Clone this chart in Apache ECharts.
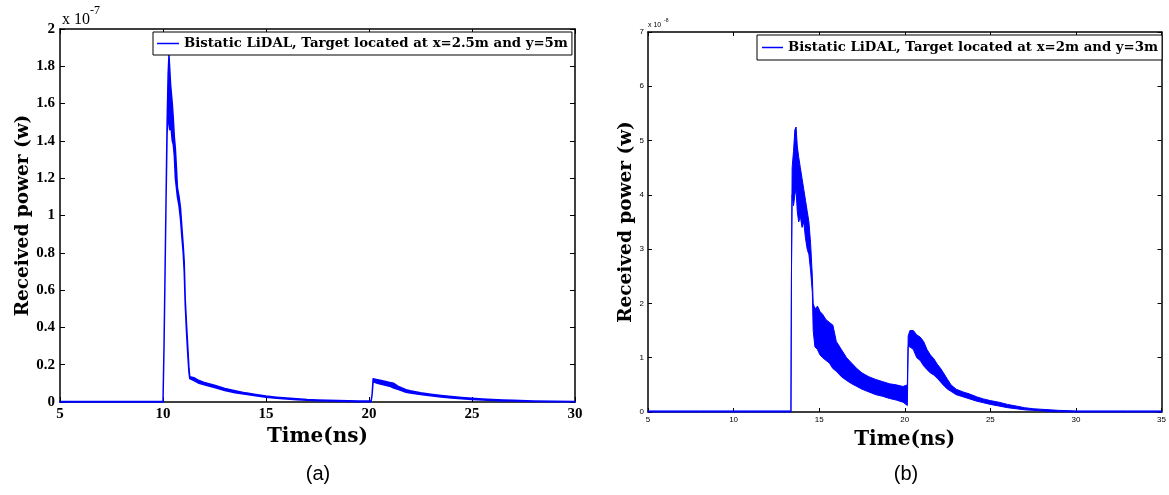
<!DOCTYPE html>
<html><head><meta charset="utf-8">
<script src="https://cdn.jsdelivr.net/npm/echarts@6/dist/echarts.min.js"></script>
<style>html,body{margin:0;padding:0;background:#fff}#c{width:1169px;height:495px}</style>
</head><body><div id="c"></div>
<script>
// ---------- Chart (a): time in ns, received power in units of 1e-7 W ----------
const aName = 'Bistatic LiDAL, Target located at x=2.5m and y=5m';
const aXTicks = [5, 10, 15, 20, 25, 30];
const aYTicks = [0, 0.2, 0.4, 0.6, 0.8, 1, 1.2, 1.4, 1.6, 1.8, 2];
const aTime  = [5.0, 7.0, 9.99, 10.0, 10.05, 10.1, 10.15, 10.2, 10.25, 10.29, 10.33, 10.37, 10.41, 10.45, 10.5, 10.55, 10.6, 10.65, 10.7, 10.78, 10.85, 10.92, 10.98, 11.03, 11.08, 11.14, 11.2, 11.26, 11.3, 11.5, 11.75, 12.0, 12.5, 13.0, 13.5, 14.0, 14.5, 15.0, 15.5, 16.0, 16.5, 17.0, 17.5, 18.0, 18.5, 19.0, 19.5, 20.1, 20.15, 20.2, 20.4, 20.6, 20.8, 21.0, 21.2, 21.4, 21.6, 21.8, 22.0, 22.5, 23.0, 23.5, 24.0, 24.5, 25.0, 25.5, 26.0, 26.5, 27.0, 28.0, 29.0, 30.0];
const aUpper = [0.003, 0.003, 0.003, 0.0, 0.3, 0.7, 1.1, 1.5, 1.76, 1.86, 1.78, 1.7, 1.65, 1.6, 1.52, 1.42, 1.36, 1.26, 1.15, 1.1, 1.04, 0.93, 0.84, 0.75, 0.55, 0.42, 0.3, 0.18, 0.135, 0.13, 0.115, 0.105, 0.09, 0.072, 0.06, 0.049, 0.04, 0.032, 0.026, 0.021, 0.017, 0.013, 0.011, 0.009, 0.008, 0.007, 0.006, 0.005, 0.04, 0.125, 0.12, 0.115, 0.11, 0.105, 0.1, 0.085, 0.075, 0.066, 0.06, 0.05, 0.042, 0.035, 0.029, 0.024, 0.02, 0.016, 0.013, 0.011, 0.009, 0.006, 0.004, 0.003];
const aLower = [0, 0, 0, 0.0, 0.3, 0.7, 1.1, 1.45, 1.5, 1.55, 1.46, 1.5, 1.45, 1.4, 1.38, 1.32, 1.2, 1.15, 1.1, 1.05, 0.98, 0.88, 0.8, 0.7, 0.52, 0.38, 0.26, 0.16, 0.125, 0.115, 0.1, 0.092, 0.078, 0.062, 0.05, 0.041, 0.033, 0.025, 0.02, 0.016, 0.012, 0.009, 0.007, 0.005, 0.004, 0.003, 0.002, 0.002, 0.04, 0.11, 0.1, 0.095, 0.09, 0.085, 0.075, 0.068, 0.06, 0.052, 0.048, 0.04, 0.033, 0.027, 0.022, 0.017, 0.014, 0.011, 0.008, 0.006, 0.005, 0.003, 0.001, 0.001];

// ---------- Chart (b): time in ns, received power in units of 1e-8 W ----------
const bName = 'Bistatic LiDAL, Target located at x=2m and y=3m';
const bXTicks = [5, 10, 15, 20, 25, 30, 35];
const bYTicks = [0, 1, 2, 3, 4, 5, 6, 7];
const bTime  = [5.0, 8.0, 11.0, 13.3, 13.35, 13.38, 13.42, 13.5, 13.58, 13.65, 13.72, 13.8, 13.9, 14.0, 14.1, 14.2, 14.3, 14.4, 14.5, 14.6, 14.65, 14.75, 14.9, 15.05, 15.2, 15.4, 15.6, 15.8, 16.0, 16.3, 16.6, 16.9, 17.2, 17.5, 17.9, 18.3, 18.7, 19.1, 19.5, 19.9, 20.15, 20.2, 20.3, 20.5, 20.7, 20.9, 21.1, 21.3, 21.5, 21.7, 21.9, 22.1, 22.3, 22.5, 22.7, 23.0, 23.4, 23.8, 24.2, 24.6, 25.0, 25.5, 26.0, 26.5, 27.0, 27.5, 28.0, 28.5, 29.0, 30.0, 31.0, 33.0, 35.0];
const bUpper = [0.02, 0.02, 0.02, 0.02, 0.0, 2.5, 4.5, 4.8, 5.2, 5.25, 4.9, 4.7, 4.5, 4.3, 4.1, 3.9, 3.7, 3.5, 3.1, 2.5, 2.0, 1.9, 1.95, 1.85, 1.8, 1.7, 1.65, 1.6, 1.3, 1.15, 1.0, 0.9, 0.8, 0.72, 0.65, 0.6, 0.56, 0.52, 0.5, 0.47, 0.5, 1.4, 1.5, 1.5, 1.42, 1.38, 1.3, 1.15, 1.05, 0.98, 0.88, 0.8, 0.7, 0.6, 0.5, 0.42, 0.37, 0.33, 0.28, 0.24, 0.21, 0.18, 0.14, 0.11, 0.08, 0.06, 0.05, 0.04, 0.03, 0.02, 0.02, 0.02, 0.02];
const bLower = [0, 0, 0, 0, 0.0, 2.5, 4.0, 3.8, 4.0, 4.1, 3.7, 3.5, 3.6, 3.4, 3.5, 3.2, 3.0, 2.9, 2.6, 2.2, 1.5, 1.2, 1.15, 1.05, 1.0, 0.95, 0.9, 0.8, 0.75, 0.65, 0.58, 0.52, 0.47, 0.42, 0.37, 0.32, 0.29, 0.25, 0.22, 0.18, 0.12, 1.2, 1.2, 1.15, 1.0, 0.95, 0.85, 0.78, 0.72, 0.68, 0.62, 0.55, 0.48, 0.42, 0.38, 0.32, 0.28, 0.24, 0.2, 0.17, 0.14, 0.11, 0.08, 0.06, 0.04, 0.03, 0.02, 0.01, 0.005, 0, 0, 0, 0];

const BLUE = '#0000ff';
const SERIF = '"Liberation Serif", "DejaVu Serif", serif';
const WSERIF = '"DejaVu Serif", "Liberation Serif", serif';
const SANS = '"Liberation Sans", Arial, sans-serif';

function band(xs, hi, lo, lw) {
  return function (params, api) {
    const pts = [];
    for (let i = 0; i < xs.length; i++) pts.push(api.coord([xs[i], hi[i]]));
    for (let i = xs.length - 1; i >= 0; i--) pts.push(api.coord([xs[i], lo[i]]));
    return { type: 'polygon', shape: { points: pts }, style: { fill: BLUE, stroke: BLUE, lineWidth: lw, lineJoin: 'round' } };
  };
}

function ax(grid, ticks, pos, opts) {
  return Object.assign({
    gridIndex: grid, type: 'value', position: pos,
    min: ticks[0], max: ticks[ticks.length - 1], interval: ticks[1] - ticks[0],
    axisLine: { onZero: false, lineStyle: { color: '#000', width: opts.lw } },
    axisTick: { inside: true, length: opts.tl, lineStyle: { color: '#000', width: 1 } },
    splitLine: { show: false },
    axisLabel: pos === 'bottom' || pos === 'left' ? opts.label : { show: false }
  }, opts.extra || {});
}

const aLabel = { color: '#000', fontFamily: SERIF, fontWeight: 'bold', fontSize: 15, margin: 5 };
const bLabel = { color: '#000', fontFamily: SANS, fontSize: 8, margin: 4 };
const titleStyle = (w, s) => ({ color: '#000', fontFamily: WSERIF, fontWeight: w, fontSize: s });

const chart = echarts.init(document.getElementById('c'), null, { renderer: 'canvas' });
chart.setOption({
  animation: false,
  backgroundColor: '#fff',
  grid: [
    { left: 60, top: 29, width: 515, height: 373 },
    { left: 648, top: 32, width: 515, height: 380 }
  ],
  xAxis: [
    ax(0, aXTicks, 'bottom', { lw: 1.5, tl: 5, label: aLabel, extra: {
      name: 'Time(ns)', nameLocation: 'middle', nameGap: 25, nameTextStyle: titleStyle('bold', 20) } }),
    ax(0, aXTicks, 'top', { lw: 1.5, tl: 5 }),
    ax(1, bXTicks, 'bottom', { lw: 1.5, tl: 4, label: bLabel, extra: {
      name: 'Time(ns)', nameLocation: 'middle', nameGap: 18, nameTextStyle: titleStyle('bold', 20) } }),
    ax(1, bXTicks, 'top', { lw: 1.5, tl: 4 })
  ],
  yAxis: [
    ax(0, aYTicks, 'left', { lw: 1.5, tl: 5, label: aLabel, extra: {
      name: 'Received power (w)', nameLocation: 'middle', nameGap: 27, nameTextStyle: titleStyle('bold', 18.5) } }),
    ax(0, aYTicks, 'right', { lw: 1.5, tl: 5 }),
    ax(1, bYTicks, 'left', { lw: 1.5, tl: 4, label: bLabel, extra: {
      name: 'Received power (w)', nameLocation: 'middle', nameGap: 10, nameTextStyle: titleStyle('bold', 18.5) } }),
    ax(1, bYTicks, 'right', { lw: 1.5, tl: 4 })
  ],
  legend: [
    { data: [{ name: aName, icon: 'rect' }], left: 153, top: 32, selectedMode: false,
      itemWidth: 22, itemHeight: 1.5, itemGap: 3,
      backgroundColor: '#fff', borderColor: '#000', borderWidth: 1, borderRadius: 0, padding: [5, 4, 5, 4],
      textStyle: { color: '#000', fontFamily: WSERIF, fontWeight: 'bold', fontSize: 13.3 } },
    { data: [{ name: bName, icon: 'rect' }], left: 757, top: 35, selectedMode: false,
      itemWidth: 21, itemHeight: 1.5, itemGap: 4,
      backgroundColor: '#fff', borderColor: '#000', borderWidth: 1, borderRadius: 0, padding: [6, 4, 6, 5],
      textStyle: { color: '#000', fontFamily: WSERIF, fontWeight: 'bold', fontSize: 13.3 } }
  ],
  graphic: [
    { type: 'text', left: 62, top: 12, style: { text: 'x 10', font: '16px ' + SERIF, fill: '#000' } },
    { type: 'text', left: 90, top: 5, style: { text: '-7', font: '12px ' + SERIF, fill: '#000' } },
    { type: 'text', left: 648, top: 22, style: { text: 'x 10', font: '7px ' + SANS, fill: '#000' } },
    { type: 'text', left: 664, top: 18, style: { text: '-8', font: '5px ' + SANS, fill: '#000' } },
    { type: 'text', x: 318, y: 474, style: { text: '(a)', font: '20px ' + SANS, fill: '#000', align: 'center', verticalAlign: 'middle' } },
    { type: 'text', x: 906, y: 474, style: { text: '(b)', font: '20px ' + SANS, fill: '#000', align: 'center', verticalAlign: 'middle' } }
  ],
  series: [
    { type: 'custom', name: aName, coordinateSystem: 'cartesian2d', xAxisIndex: 0, yAxisIndex: 0,
      itemStyle: { color: BLUE }, data: [[aTime[0], aUpper[0]]], renderItem: band(aTime, aUpper, aLower, 1.5), z: 2 },
    { type: 'custom', name: bName, coordinateSystem: 'cartesian2d', xAxisIndex: 2, yAxisIndex: 2,
      itemStyle: { color: BLUE }, data: [[bTime[0], bUpper[0]]], renderItem: band(bTime, bUpper, bLower, 1), z: 2 }
  ]
});
</script></body></html>
